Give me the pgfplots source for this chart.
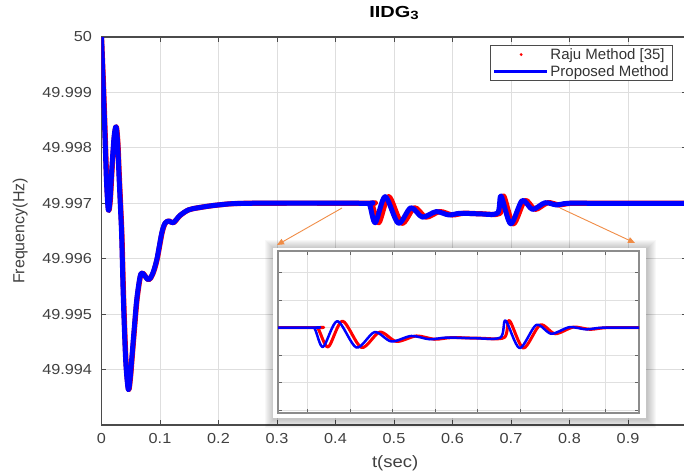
\documentclass[border=0pt]{standalone}
\usepackage{fontspec}
\setmainfont{Liberation Sans}
\newfontfamily\tickfont{Liberation Sans}[FakeStretch=1.12]
\newfontfamily\titlefont{Liberation Sans}[FakeStretch=1.25]
\usepackage{pgfplots}
\pgfplotsset{compat=1.18}
\usepackage{pgfplotstable}
\usetikzlibrary{arrows.meta}
\definecolor{axgray}{RGB}{75,75,75}
\definecolor{arrowor}{RGB}{240,140,70}

% t (s), frequency deviation from 50 Hz in mHz (49.997 Hz = -3)
\pgfplotstableread{
t d
0 0
0.0025 -0.75
0.005 -1.5
0.0085 -2.6
0.0116 -3.12
0.0145 -2.95
0.0175 -2.4
0.0215 -1.8
0.0248 -1.62
0.0275 -1.9
0.0299 -2.5
0.0325 -3.1
0.0345 -3.6
0.0373 -4.7
0.0414 -5.85
0.0458 -6.36
0.0490 -6.15
0.0516 -5.82
0.0560 -5.25
0.0602 -4.74
0.0658 -4.33
0.0700 -4.26
0.0800 -4.38
0.0870 -4.28
0.0944 -4.02
0.1029 -3.54
0.1085 -3.36
0.1150 -3.32
0.1227 -3.35
0.1340 -3.22
0.1484 -3.12
0.1655 -3.08
0.1997 -3.03
0.2500 -3.0
0.4500 -3.0
0.4582 -3.02
0.4680 -3.35
0.4849 -2.88
0.5073 -3.36
0.5288 -3.08
0.5485 -3.25
0.5720 -3.15
0.5935 -3.21
0.6132 -3.18
0.6450 -3.19
0.6767 -3.18
0.6829 -2.87
0.6994 -3.37
0.7191 -2.95
0.7367 -3.11
0.7582 -2.99
0.7779 -3.03
0.7974 -3.0
0.8500 -3.0
1.0000 -3.0
}\bluedata

\pgfplotstableread{
t d
0 0
0.0030 -0.75
0.0055 -1.5
0.0090 -2.6
0.0121 -3.12
0.0150 -2.95
0.0180 -2.4
0.0220 -1.8
0.0253 -1.62
0.0280 -1.9
0.0304 -2.5
0.0330 -3.1
0.0350 -3.6
0.0378 -4.7
0.0419 -5.85
0.0463 -6.36
0.0495 -6.15
0.0521 -5.82
0.0565 -5.25
0.0607 -4.74
0.0663 -4.33
0.0705 -4.26
0.0805 -4.38
0.0875 -4.28
0.0949 -4.02
0.1034 -3.54
0.1090 -3.36
0.1155 -3.32
0.1232 -3.35
0.1345 -3.22
0.1489 -3.12
0.1660 -3.08
0.2002 -3.03
0.2500 -3.0
0.4540 -3.0
0.4622 -3.02
0.4740 -3.35
0.4909 -2.88
0.5133 -3.36
0.5348 -3.08
0.5545 -3.25
0.5780 -3.15
0.5995 -3.21
0.6192 -3.18
0.6500 -3.19
0.6812 -3.18
0.6874 -2.87
0.7039 -3.37
0.7236 -2.95
0.7412 -3.11
0.7627 -2.99
0.7824 -3.03
0.8019 -3.0
0.8500 -3.0
1.0000 -3.0
}\reddata

\begin{document}
\begin{tikzpicture}
\path[use as bounding box] (-101.5pt,-49pt) rectangle (582.5pt,425pt);
\begin{axis}[
  at={(0pt,0pt)}, anchor=south west,
  scale only axis, width=585pt, height=388pt,
  xmin=0, xmax=1, ymin=-7, ymax=0,
  xtick={0,0.1,0.2,0.3,0.4,0.5,0.6,0.7,0.8,0.9,1},
  xticklabels={0,0.1,0.2,0.3,0.4,0.5,0.6,0.7,0.8,0.9,{}},
  ytick={-6,-5,-4,-3,-2,-1,0},
  yticklabels={49.994,49.995,49.996,49.997,49.998,49.999,50},
  grid=major,
  major grid style={black!13, line width=0.8pt},
  axis line style={axgray, line width=1.3pt},
  tick style={axgray, line width=1pt},
  tick align=inside, major tick length=5pt,
  ticklabel style={font=\tickfont\fontsize{14.5}{16}\selectfont, text=black!75},
  yticklabel style={xshift=-6pt},
  xticklabel style={yshift=-5pt},
  title={\titlefont\fontsize{16}{18}\selectfont\bfseries IIDG\raisebox{-0.35ex}{\fontsize{12}{14}\selectfont 3}},
  title style={at={(axis description cs:0.5,1)}, anchor=base, yshift=14pt},
  xlabel={t(sec)},
  xlabel style={at={(axis description cs:0.502,-0.098)}, anchor=center, font=\tickfont\fontsize{16.5}{18}\selectfont, text=black!75},
  ylabel={Frequency(Hz)},
  ylabel style={at={(axis description cs:-0.139,0.5)}, anchor=center, font=\fontsize{16}{18}\selectfont, text=black!75},
  legend style={at={(axis description cs:0.977,0.979)}, anchor=north east,
    draw=axgray, line width=0.8pt, fill=white,
    font=\fontsize{15}{17}\selectfont, text=black!80,
    inner xsep=2pt, inner ysep=1pt, row sep=1pt,
    nodes={inner sep=1.8pt}, cells={anchor=west}},
  every axis plot/.append style={line join=round, line cap=round},
]
\addplot[red, line width=5.2pt, smooth,
  legend image code/.code={\path[draw=none,fill=none] (0pt,0pt) -- (53pt,0pt); \fill[red, draw=none] (27pt,0pt) circle (1.6pt);}]
  table {\reddata};
\addlegendentry{Raju Method [35]}
\addplot[blue, line width=5pt, smooth,
  legend image code/.code={\draw[blue, line width=3pt, line cap=butt] (0pt,0pt) -- (53pt,0pt);}]
  table {\bluedata};
\addlegendentry{Proposed Method}
\end{axis}

% inset frame with soft shadow
\foreach \i in {1,...,9} {
  \fill[black, opacity=0.028] ({171.5pt-\i pt+1pt},{7pt-\i pt-1pt}) rectangle ({544.5pt+\i pt+1pt},{177pt+\i pt-1pt});
}
\fill[white] (171.5pt,7pt) rectangle (544.5pt,177pt);

\begin{axis}[
  at={(176.5pt,12pt)}, anchor=south west,
  scale only axis, width=361pt, height=162pt,
  xmin=0.415, xmax=0.84, ymin=-4.551, ymax=-1.605,
  xtick={0.45,0.5,0.55,0.6,0.65,0.7,0.75,0.8},
  ytick={-4.5,-4,-3.5,-3,-2.5,-2},
  xticklabels={}, yticklabels={},
  grid=major,
  major grid style={black!12, line width=0.8pt},
  axis line style={black!45, line width=1.2pt},
  tick style={black!60, line width=0.8pt},
  tick align=inside, major tick length=4pt,
  every axis plot/.append style={line join=round, line cap=round},
]
\addplot[red, line width=3pt, smooth] table {\reddata};
\addplot[blue, line width=2.5pt, smooth] table {\bluedata};
\end{axis}

\draw[arrowor, line width=0.9pt, -{Triangle[length=7pt,width=6pt]}] (240.5pt,217pt) -- (175.5pt,180pt);
\draw[arrowor, line width=0.9pt, -{Triangle[length=7pt,width=6pt]}] (458.5pt,217pt) -- (533.5pt,182pt);
\end{tikzpicture}
\end{document}
